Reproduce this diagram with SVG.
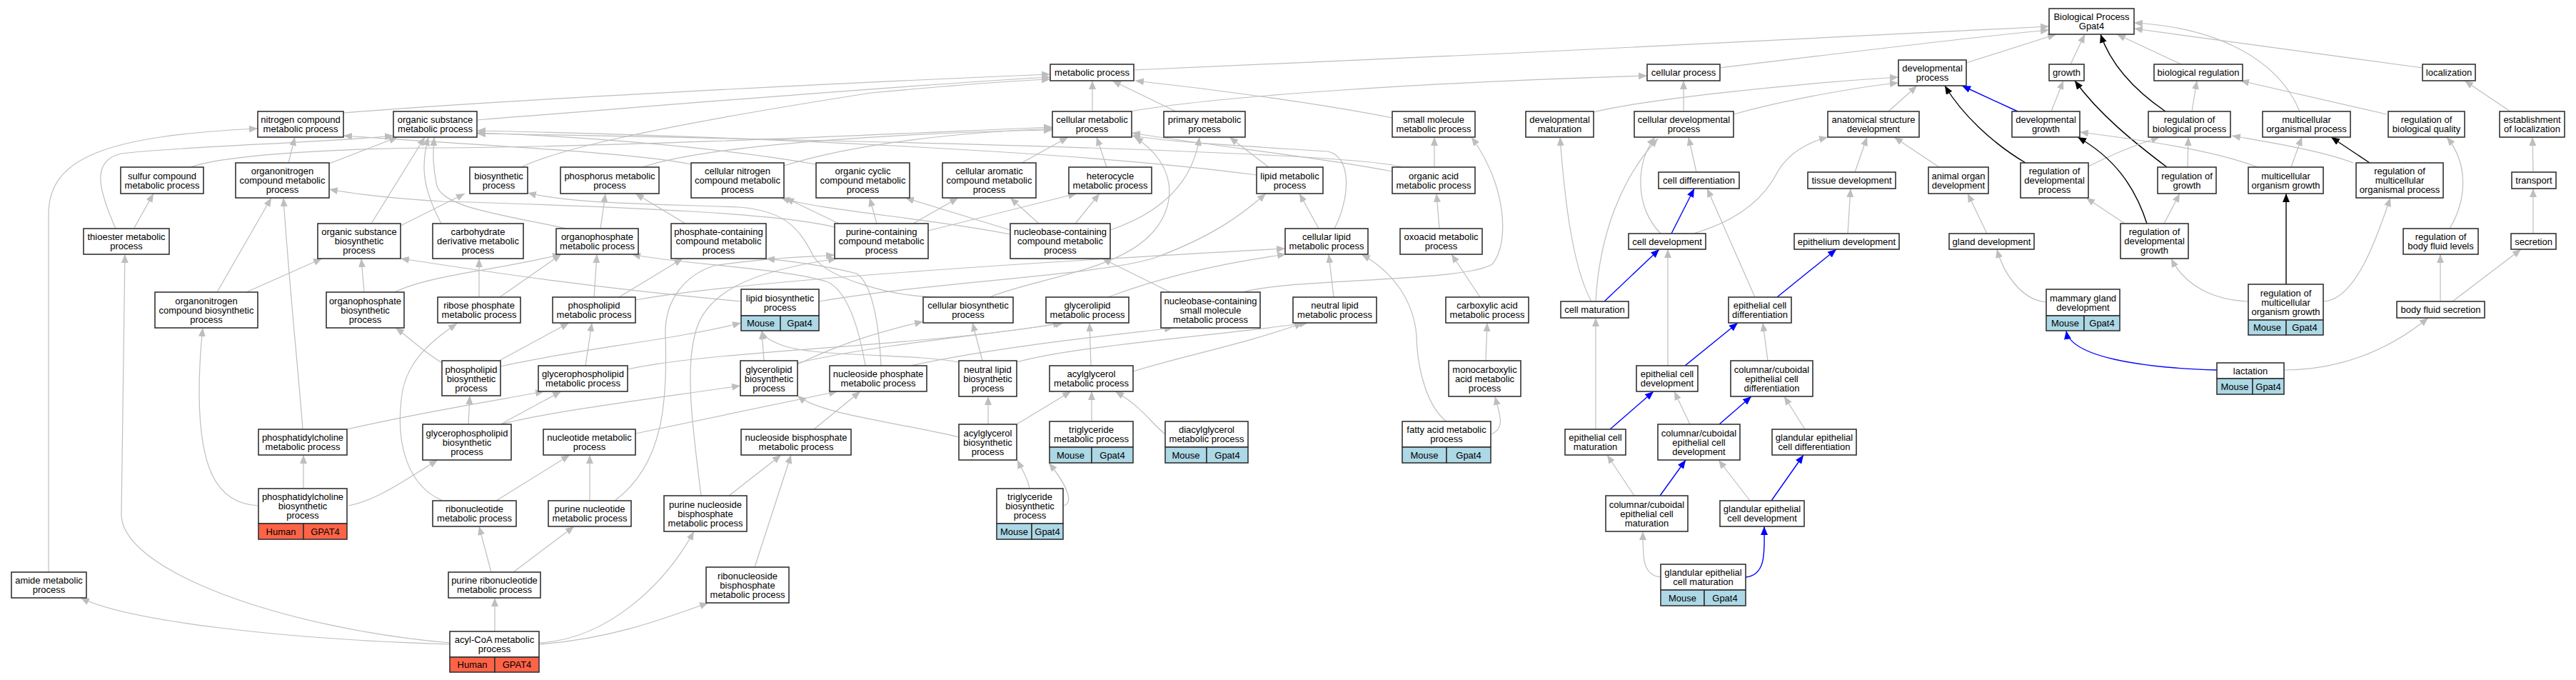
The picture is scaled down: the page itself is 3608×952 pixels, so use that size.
<svg xmlns="http://www.w3.org/2000/svg" width="3608" height="952" viewBox="0 0 3608 952">
<style>
text{font-family:"Liberation Sans",Arial,sans-serif;font-size:13px;text-anchor:middle;fill:#000}
.n rect{fill:#fff;stroke:#333;stroke-width:1.6}
.n rect.h{fill:#ff6347}
.n rect.m{fill:#add8e6}
#edges path{fill:none;stroke:#bebebe;stroke-width:1.2;marker-end:url(#ag)}
#edges path.k{stroke:#000;stroke-width:1.4;marker-end:url(#ak)}
#edges path.b{stroke:#00f;stroke-width:1.4;marker-end:url(#ab)}
</style>
<defs>
<marker id="ag" viewBox="0 0 12 10" refX="12" refY="5" markerWidth="12" markerHeight="10" markerUnits="userSpaceOnUse" orient="auto"><path d="M0,0 L12,5 L0,10 z" fill="#bebebe"/></marker>
<marker id="ak" viewBox="0 0 12 10" refX="12" refY="5" markerWidth="12" markerHeight="10" markerUnits="userSpaceOnUse" orient="auto"><path d="M0,0 L12,5 L0,10 z" fill="#000"/></marker>
<marker id="ab" viewBox="0 0 12 10" refX="12" refY="5" markerWidth="12" markerHeight="10" markerUnits="userSpaceOnUse" orient="auto"><path d="M0,0 L12,5 L0,10 z" fill="#00f"/></marker>
</defs>
<rect width="3608" height="952" fill="#fff"/>
<g id="edges">
<path d="M1588,98 C2000,82 2500,55 2870,37"/>
<path d="M2409,95 C2600,72 2760,52 2870,42"/>
<path d="M2754,88 L2880,48"/>
<path d="M2900,90 L2920,48"/>
<path class="k" d="M3033,156 C2995,130 2958,95 2942,48"/>
<path d="M3055,90 L2965,48"/>
<path d="M3221,156 C3190,80 3100,38 2989,32"/>
<path d="M3393,95 L2989,40"/>
<path d="M481,158 C700,140 1200,115 1471,104"/>
<path d="M668,168 C900,150 1250,120 1471,108"/>
<path d="M730,234 C780,210 900,180 1220,130 C1350,118 1420,113 1471,111"/>
<path d="M1530,156 L1530,113"/>
<path d="M1647,156 L1558,113"/>
<path d="M1950,165 C1850,145 1700,125 1590,113"/>
<path d="M1583,156 C1700,135 2000,115 2307,106"/>
<path d="M2358,156 L2358,113"/>
<path d="M2232,157 C2300,140 2500,118 2659,108"/>
<path d="M2428,160 C2500,140 2600,122 2659,116"/>
<path d="M2645,156 L2685,120"/>
<path class="b" d="M2826,156 L2748,120"/>
<path class="k" d="M2837,228 C2790,200 2748,160 2724,120"/>
<path d="M2873,156 L2890,113"/>
<path class="k" d="M3035,234 C2990,200 2940,160 2906,113"/>
<path d="M3070,156 L3077,113"/>
<path d="M3343,160 L3138,113"/>
<path d="M3516,156 L3452,113"/>
<path d="M2925,233 C2960,215 3000,200 3025,192"/>
<path d="M3064,234 L3065,192"/>
<path d="M3296,228 C3250,210 3170,198 3126,190"/>
<path class="k" d="M3007,313 C2990,260 2960,220 2910,192"/>
<path d="M3162,234 C3100,210 3000,196 2913,185"/>
<path d="M3209,234 L3224,192"/>
<path class="k" d="M3319,228 L3265,192"/>
<path d="M3431,320 C3455,280 3458,230 3427,192"/>
<path d="M3548,241 L3547,192"/>
<path d="M3548,327 L3548,264"/>
<path d="M3435,422 L3531,349"/>
<path d="M3418,422 L3418,356"/>
<path d="M3031,313 L3053,271"/>
<path d="M2976,313 L2922,277"/>
<path class="k" d="M3202,398 L3202,271"/>
<path d="M3149,422 C3100,420 3060,400 3041,362"/>
<path d="M3254,422 C3300,420 3330,330 3348,277"/>
<path d="M3199,518 C3270,518 3340,495 3401,445"/>
<path class="b" d="M3105,518 C3000,515 2900,500 2894,463"/>
<path d="M2866,423 C2830,420 2805,380 2797,349"/>
<path d="M2783,327 L2756,271"/>
<path d="M2716,234 L2653,192"/>
<path d="M2598,241 L2615,192"/>
<path d="M2588,327 L2592,264"/>
<path class="b" d="M2489,416 L2572,349"/>
<path d="M2458,416 L2391,264"/>
<path class="b" d="M2341,327 L2373,264"/>
<path d="M2372,327 C2430,310 2470,280 2490,240 C2505,215 2530,200 2560,192"/>
<path d="M2326,327 C2290,290 2290,230 2318,192"/>
<path d="M2376,241 L2365,192"/>
<path d="M2235,422 C2240,330 2270,250 2322,194"/>
<path d="M2229,422 C2200,370 2190,260 2185,192"/>
<path class="b" d="M2247,422 L2324,349"/>
<path d="M2235,601 L2235,445"/>
<path class="b" d="M2255,601 L2316,548"/>
<path d="M2336,512 L2336,349"/>
<path class="b" d="M2360,512 L2434,452"/>
<path d="M2476,505 L2469,452"/>
<path d="M2367,594 L2345,548"/>
<path class="b" d="M2408,594 L2453,555"/>
<path d="M2289,694 L2251,637"/>
<path class="b" d="M2325,694 L2361,644"/>
<path d="M2451,701 L2407,644"/>
<path class="b" d="M2481,701 L2526,637"/>
<path d="M2528,601 L2499,555"/>
<path class="b" d="M2445,808 C2475,805 2471,770 2471,737"/>
<path d="M2326,808 C2300,805 2301,780 2301,744"/>
<path d="M68,801 L68,300 C68,220 150,190 361,180"/>
<path d="M630,902 C400,895 180,870 113,837"/>
<path d="M630,900 C400,880 170,800 170,720 L175,356"/>
<path d="M188,319 L215,271"/>
<path d="M162,320 C140,270 125,225 170,215 C250,205 450,200 551,190"/>
<path d="M267,234 C320,215 500,207 620,207 C900,205 1300,185 1474,178"/>
<path d="M404,228 L413,192"/>
<path d="M461,229 L557,192"/>
<path d="M1169,318 C1100,300 900,290 620,282 C550,278 500,272 461,265"/>
<path d="M424,601 C418,520 405,400 397,277"/>
<path d="M425,684 L425,637"/>
<path d="M362,708 C300,705 280,650 279,553 C279,500 282,480 284,459"/>
<path d="M488,708 C530,700 570,670 613,644"/>
<path d="M486,601 C600,575 700,560 762,548"/>
<path d="M304,409 L380,277"/>
<path d="M345,409 L451,362"/>
<path d="M510,409 L506,362"/>
<path d="M553,409 C600,385 700,378 786,356"/>
<path d="M520,313 L595,192"/>
<path d="M561,316 L651,271"/>
<path d="M618,313 C590,260 590,230 600,192"/>
<path d="M794,320 C700,300 620,290 612,260 C605,230 607,210 608,192"/>
<path d="M841,320 L848,271"/>
<path d="M960,313 L890,271"/>
<path d="M671,416 L671,362"/>
<path d="M700,416 L786,356"/>
<path d="M620,701 C570,680 555,620 562,560 C566,510 600,480 640,453"/>
<path d="M619,508 C590,490 570,470 554,459"/>
<path d="M699,505 L797,452"/>
<path d="M701,513 C800,490 950,475 1038,452"/>
<path d="M832,416 L836,356"/>
<path d="M867,416 L956,362"/>
<path d="M890,420 C1000,400 1300,375 1800,348"/>
<path d="M656,594 L658,554"/>
<path d="M701,594 L786,548"/>
<path d="M701,594 C760,578 900,560 1037,540"/>
<path d="M820,512 L829,452"/>
<path d="M879,517 C1000,490 1300,485 1487,452"/>
<path d="M1038,422 C800,400 650,375 561,362"/>
<path d="M1147,422 C1300,395 1550,385 1620,360 C1700,330 1740,300 1773,271"/>
<path d="M1070,505 L1067,463"/>
<path d="M1117,508 C1250,478 1400,468 1490,452"/>
<path d="M1117,510 C1180,480 1230,465 1293,450"/>
<path d="M1343,507 C1280,495 1150,500 1100,485 C1080,478 1070,472 1067,463"/>
<path d="M1376,505 L1362,452"/>
<path d="M1424,507 C1500,485 1700,470 1832,452"/>
<path d="M1384,594 L1384,555"/>
<path d="M1424,594 L1500,548"/>
<path d="M1343,612 C1250,590 1150,580 1117,554"/>
<path d="M1529,590 L1529,548"/>
<path d="M1632,608 C1610,590 1600,570 1562,548"/>
<path d="M1442,684 C1440,670 1430,655 1425,644"/>
<path d="M1489,708 C1505,705 1495,680 1469,648"/>
<path d="M1528,512 L1526,452"/>
<path d="M1587,520 C1650,500 1750,480 1825,452"/>
<path d="M1552,416 C1620,390 1700,370 1801,356"/>
<path d="M1868,416 L1861,356"/>
<path d="M2026,590 C2000,570 1985,520 1984,470 C1980,420 1950,380 1907,356"/>
<path d="M2088,608 C2110,600 2100,580 2094,555"/>
<path d="M2081,505 L2083,452"/>
<path d="M2073,416 L2033,356"/>
<path d="M2016,320 L2012,271"/>
<path d="M2009,234 L2009,192"/>
<path d="M1847,320 L1820,271"/>
<path d="M1869,320 C1890,280 1895,220 1860,212 C1750,205 1650,200 1585,190"/>
<path d="M1777,234 L1722,192"/>
<path d="M1760,245 C1500,210 1000,190 668,183"/>
<path d="M1964,234 C1900,215 1400,200 668,187"/>
<path d="M1950,240 C1850,220 1700,205 1585,186"/>
<path d="M1741,409 C1800,390 2050,395 2090,370 C2115,340 2110,260 2061,192"/>
<path d="M1639,409 L1544,362"/>
<path d="M1275,512 C1400,485 1550,470 1643,459"/>
<path d="M1234,512 C1232,470 1225,400 1200,383 C1150,370 1100,365 1073,362"/>
<path d="M1212,512 C1205,470 1190,410 1160,395 C1100,375 950,370 885,356"/>
<path d="M890,607 L1173,548"/>
<path d="M1140,601 L1205,548"/>
<path d="M695,701 L798,637"/>
<path d="M826,701 L826,637"/>
<path d="M861,701 C930,650 935,560 932,470 C930,420 960,385 1000,372 C1080,360 1130,360 1169,357"/>
<path d="M982,694 C970,600 960,520 973,470 C985,410 1050,380 1172,362"/>
<path d="M1021,694 L1094,637"/>
<path d="M1057,794 L1108,637"/>
<path d="M688,801 L671,737"/>
<path d="M719,801 L804,737"/>
<path d="M693,884 L693,837"/>
<path d="M755,900 C850,895 930,820 972,744"/>
<path d="M755,902 C850,895 920,870 992,844"/>
<path d="M1228,313 L1218,277"/>
<path d="M1279,313 L1342,277"/>
<path d="M1300,323 L1508,271"/>
<path d="M1175,313 L1100,277"/>
<path d="M1415,322 L1268,277"/>
<path d="M1455,313 L1415,277"/>
<path d="M1506,313 L1540,271"/>
<path d="M1415,328 C1300,305 1150,295 1094,277"/>
<path d="M1555,322 C1620,300 1670,260 1680,192"/>
<path d="M1431,228 L1496,192"/>
<path d="M1550,234 L1536,192"/>
<path d="M1098,232 C1200,200 1350,185 1474,180"/>
<path d="M968,230 C900,215 700,205 481,190"/>
<path d="M900,234 C1000,200 1300,185 1474,182"/>
<path d="M1143,230 C1000,205 800,190 668,186"/>
<path d="M1386,416 C1450,390 1560,380 1610,330 C1650,290 1650,230 1589,192"/>
<path d="M1310,416 C1250,415 1160,390 1140,360 C1120,320 1100,295 1035,290 C900,285 800,285 739,270"/>
</g>
<g id="n1" class="n"><rect x="2870" y="12" width="119" height="36"/><text x="2929.5" y="28">Biological Process<tspan x="2929.5" dy="13">Gpat4</tspan></text></g>
<g id="n2" class="n"><rect x="1471" y="90" width="117" height="23"/><text x="1529.5" y="106">metabolic process</text></g>
<g id="n3" class="n"><rect x="2307" y="90" width="102" height="23"/><text x="2358" y="106">cellular process</text></g>
<g id="n4" class="n"><rect x="2659" y="84" width="95" height="36"/><text x="2706.5" y="100">developmental<tspan x="2706.5" dy="13">process</tspan></text></g>
<g id="n5" class="n"><rect x="2870" y="90" width="49" height="23"/><text x="2894.5" y="106">growth</text></g>
<g id="n6" class="n"><rect x="3017" y="90" width="124" height="23"/><text x="3079" y="106">biological regulation</text></g>
<g id="n7" class="n"><rect x="3393" y="90" width="74" height="23"/><text x="3430" y="106">localization</text></g>
<g id="n8" class="n"><rect x="361" y="156" width="120" height="36"/><text x="421" y="172">nitrogen compound<tspan x="421" dy="13">metabolic process</tspan></text></g>
<g id="n9" class="n"><rect x="551" y="156" width="117" height="36"/><text x="609.5" y="172">organic substance<tspan x="609.5" dy="13">metabolic process</tspan></text></g>
<g id="n10" class="n"><rect x="1474" y="156" width="111" height="36"/><text x="1529.5" y="172">cellular metabolic<tspan x="1529.5" dy="13">process</tspan></text></g>
<g id="n11" class="n"><rect x="1630" y="156" width="114" height="36"/><text x="1687" y="172">primary metabolic<tspan x="1687" dy="13">process</tspan></text></g>
<g id="n12" class="n"><rect x="1950" y="156" width="116" height="36"/><text x="2008" y="172">small molecule<tspan x="2008" dy="13">metabolic process</tspan></text></g>
<g id="n13" class="n"><rect x="2137" y="156" width="95" height="36"/><text x="2184.5" y="172">developmental<tspan x="2184.5" dy="13">maturation</tspan></text></g>
<g id="n14" class="n"><rect x="2289" y="156" width="139" height="36"/><text x="2358.5" y="172">cellular developmental<tspan x="2358.5" dy="13">process</tspan></text></g>
<g id="n15" class="n"><rect x="2560" y="156" width="128" height="36"/><text x="2624" y="172">anatomical structure<tspan x="2624" dy="13">development</tspan></text></g>
<g id="n16" class="n"><rect x="2818" y="156" width="95" height="36"/><text x="2865.5" y="172">developmental<tspan x="2865.5" dy="13">growth</tspan></text></g>
<g id="n17" class="n"><rect x="3009" y="156" width="115" height="36"/><text x="3066.5" y="172">regulation of<tspan x="3066.5" dy="13">biological process</tspan></text></g>
<g id="n18" class="n"><rect x="3169" y="156" width="123" height="36"/><text x="3230.5" y="172">multicellular<tspan x="3230.5" dy="13">organismal process</tspan></text></g>
<g id="n19" class="n"><rect x="3345" y="156" width="107" height="36"/><text x="3398.5" y="172">regulation of<tspan x="3398.5" dy="13">biological quality</tspan></text></g>
<g id="n20" class="n"><rect x="3501" y="156" width="91" height="36"/><text x="3546.5" y="172">establishment<tspan x="3546.5" dy="13">of localization</tspan></text></g>
<g id="n21" class="n"><rect x="169" y="234" width="116" height="37"/><text x="227" y="250.5">sulfur compound<tspan x="227" dy="13">metabolic process</tspan></text></g>
<g id="n22" class="n"><rect x="330" y="228" width="131" height="49"/><text x="395.5" y="244">organonitrogen<tspan x="395.5" dy="13">compound metabolic</tspan><tspan x="395.5" dy="13">process</tspan></text></g>
<g id="n23" class="n"><rect x="658" y="234" width="81" height="37"/><text x="698.5" y="250.5">biosynthetic<tspan x="698.5" dy="13">process</tspan></text></g>
<g id="n24" class="n"><rect x="785" y="234" width="138" height="37"/><text x="854" y="250.5">phosphorus metabolic<tspan x="854" dy="13">process</tspan></text></g>
<g id="n25" class="n"><rect x="968" y="228" width="130" height="49"/><text x="1033" y="244">cellular nitrogen<tspan x="1033" dy="13">compound metabolic</tspan><tspan x="1033" dy="13">process</tspan></text></g>
<g id="n26" class="n"><rect x="1143" y="228" width="131" height="49"/><text x="1208.5" y="244">organic cyclic<tspan x="1208.5" dy="13">compound metabolic</tspan><tspan x="1208.5" dy="13">process</tspan></text></g>
<g id="n27" class="n"><rect x="1320" y="228" width="131" height="49"/><text x="1385.5" y="244">cellular aromatic<tspan x="1385.5" dy="13">compound metabolic</tspan><tspan x="1385.5" dy="13">process</tspan></text></g>
<g id="n28" class="n"><rect x="1497" y="234" width="116" height="37"/><text x="1555" y="250.5">heterocycle<tspan x="1555" dy="13">metabolic process</tspan></text></g>
<g id="n29" class="n"><rect x="1760" y="234" width="93" height="37"/><text x="1806.5" y="250.5">lipid metabolic<tspan x="1806.5" dy="13">process</tspan></text></g>
<g id="n30" class="n"><rect x="1950" y="234" width="116" height="37"/><text x="2008" y="250.5">organic acid<tspan x="2008" dy="13">metabolic process</tspan></text></g>
<g id="n31" class="n"><rect x="2323" y="241" width="113" height="23"/><text x="2379.5" y="257">cell differentiation</text></g>
<g id="n32" class="n"><rect x="2532" y="241" width="123" height="23"/><text x="2593.5" y="257">tissue development</text></g>
<g id="n33" class="n"><rect x="2701" y="234" width="84" height="37"/><text x="2743" y="250.5">animal organ<tspan x="2743" dy="13">development</tspan></text></g>
<g id="n34" class="n"><rect x="2830" y="228" width="95" height="49"/><text x="2877.5" y="244">regulation of<tspan x="2877.5" dy="13">developmental</tspan><tspan x="2877.5" dy="13">process</tspan></text></g>
<g id="n35" class="n"><rect x="3022" y="234" width="82" height="37"/><text x="3063" y="250.5">regulation of<tspan x="3063" dy="13">growth</tspan></text></g>
<g id="n36" class="n"><rect x="3149" y="234" width="105" height="37"/><text x="3201.5" y="250.5">multicellular<tspan x="3201.5" dy="13">organism growth</tspan></text></g>
<g id="n37" class="n"><rect x="3300" y="228" width="122" height="49"/><text x="3361" y="244">regulation of<tspan x="3361" dy="13">multicellular</tspan><tspan x="3361" dy="13">organismal process</tspan></text></g>
<g id="n38" class="n"><rect x="3518" y="241" width="62" height="23"/><text x="3549" y="257">transport</text></g>
<g id="n39" class="n"><rect x="117" y="320" width="120" height="36"/><text x="177" y="336">thioester metabolic<tspan x="177" dy="13">process</tspan></text></g>
<g id="n40" class="n"><rect x="445" y="313" width="116" height="49"/><text x="503" y="329">organic substance<tspan x="503" dy="13">biosynthetic</tspan><tspan x="503" dy="13">process</tspan></text></g>
<g id="n41" class="n"><rect x="606" y="313" width="127" height="49"/><text x="669.5" y="329">carbohydrate<tspan x="669.5" dy="13">derivative metabolic</tspan><tspan x="669.5" dy="13">process</tspan></text></g>
<g id="n42" class="n"><rect x="779" y="320" width="115" height="36"/><text x="836.5" y="336">organophosphate<tspan x="836.5" dy="13">metabolic process</tspan></text></g>
<g id="n43" class="n"><rect x="940" y="313" width="133" height="49"/><text x="1006.5" y="329">phosphate-containing<tspan x="1006.5" dy="13">compound metabolic</tspan><tspan x="1006.5" dy="13">process</tspan></text></g>
<g id="n44" class="n"><rect x="1169" y="313" width="131" height="49"/><text x="1234.5" y="329">purine-containing<tspan x="1234.5" dy="13">compound metabolic</tspan><tspan x="1234.5" dy="13">process</tspan></text></g>
<g id="n45" class="n"><rect x="1415" y="313" width="140" height="49"/><text x="1485" y="329">nucleobase-containing<tspan x="1485" dy="13">compound metabolic</tspan><tspan x="1485" dy="13">process</tspan></text></g>
<g id="n46" class="n"><rect x="1800" y="320" width="116" height="36"/><text x="1858" y="336">cellular lipid<tspan x="1858" dy="13">metabolic process</tspan></text></g>
<g id="n47" class="n"><rect x="1961" y="320" width="115" height="36"/><text x="2018.5" y="336">oxoacid metabolic<tspan x="2018.5" dy="13">process</tspan></text></g>
<g id="n48" class="n"><rect x="2281" y="327" width="108" height="22"/><text x="2335" y="342.5">cell development</text></g>
<g id="n49" class="n"><rect x="2513" y="327" width="147" height="22"/><text x="2586.5" y="342.5">epithelium development</text></g>
<g id="n50" class="n"><rect x="2730" y="327" width="119" height="22"/><text x="2789.5" y="342.5">gland development</text></g>
<g id="n51" class="n"><rect x="2970" y="313" width="95" height="49"/><text x="3017.5" y="329">regulation of<tspan x="3017.5" dy="13">developmental</tspan><tspan x="3017.5" dy="13">growth</tspan></text></g>
<g id="n52" class="n"><rect x="3366" y="320" width="105" height="36"/><text x="3418.5" y="336">regulation of<tspan x="3418.5" dy="13">body fluid levels</tspan></text></g>
<g id="n53" class="n"><rect x="3517" y="327" width="63" height="22"/><text x="3548.5" y="342.5">secretion</text></g>
<g id="n54" class="n"><rect x="217" y="409" width="144" height="50"/><text x="289" y="425.5">organonitrogen<tspan x="289" dy="13">compound biosynthetic</tspan><tspan x="289" dy="13">process</tspan></text></g>
<g id="n55" class="n"><rect x="457" y="409" width="109" height="50"/><text x="511.5" y="425.5">organophosphate<tspan x="511.5" dy="13">biosynthetic</tspan><tspan x="511.5" dy="13">process</tspan></text></g>
<g id="n56" class="n"><rect x="613" y="416" width="116" height="36"/><text x="671" y="432">ribose phosphate<tspan x="671" dy="13">metabolic process</tspan></text></g>
<g id="n57" class="n"><rect x="774" y="416" width="116" height="36"/><text x="832" y="432">phospholipid<tspan x="832" dy="13">metabolic process</tspan></text></g>
<g id="n58" class="n"><rect x="1038" y="405" width="109" height="37"/><rect class="m" x="1038" y="442" width="55" height="21"/><rect class="m" x="1093" y="442" width="54" height="21"/><text x="1092.5" y="421.5">lipid biosynthetic<tspan x="1092.5" dy="13">process</tspan></text><text x="1065.5" y="457">Mouse</text><text x="1120" y="457">Gpat4</text></g>
<g id="n59" class="n"><rect x="1293" y="416" width="126" height="36"/><text x="1356" y="432">cellular biosynthetic<tspan x="1356" dy="13">process</tspan></text></g>
<g id="n60" class="n"><rect x="1465" y="416" width="116" height="36"/><text x="1523" y="432">glycerolipid<tspan x="1523" dy="13">metabolic process</tspan></text></g>
<g id="n61" class="n"><rect x="1626" y="409" width="139" height="50"/><text x="1695.5" y="425.5">nucleobase-containing<tspan x="1695.5" dy="13">small molecule</tspan><tspan x="1695.5" dy="13">metabolic process</tspan></text></g>
<g id="n62" class="n"><rect x="1811" y="416" width="117" height="36"/><text x="1869.5" y="432">neutral lipid<tspan x="1869.5" dy="13">metabolic process</tspan></text></g>
<g id="n63" class="n"><rect x="2025" y="416" width="116" height="36"/><text x="2083" y="432">carboxylic acid<tspan x="2083" dy="13">metabolic process</tspan></text></g>
<g id="n64" class="n"><rect x="2186" y="422" width="95" height="23"/><text x="2233.5" y="438">cell maturation</text></g>
<g id="n65" class="n"><rect x="2421" y="416" width="88" height="36"/><text x="2465" y="432">epithelial cell<tspan x="2465" dy="13">differentiation</tspan></text></g>
<g id="n66" class="n"><rect x="2866" y="405" width="103" height="37"/><rect class="m" x="2866" y="442" width="53" height="21"/><rect class="m" x="2919" y="442" width="50" height="21"/><text x="2917.5" y="421.5">mammary gland<tspan x="2917.5" dy="13">development</tspan></text><text x="2892.5" y="457">Mouse</text><text x="2944" y="457">Gpat4</text></g>
<g id="n67" class="n"><rect x="3149" y="398" width="105" height="50"/><rect class="m" x="3149" y="448" width="53" height="21"/><rect class="m" x="3202" y="448" width="52" height="21"/><text x="3201.5" y="414.5">regulation of<tspan x="3201.5" dy="13">multicellular</tspan><tspan x="3201.5" dy="13">organism growth</tspan></text><text x="3175.5" y="463">Mouse</text><text x="3228" y="463">Gpat4</text></g>
<g id="n68" class="n"><rect x="3357" y="422" width="123" height="23"/><text x="3418.5" y="438">body fluid secretion</text></g>
<g id="n69" class="n"><rect x="619" y="505" width="82" height="49"/><text x="660" y="521.5">phospholipid<tspan x="660" dy="13">biosynthetic</tspan><tspan x="660" dy="13">process</tspan></text></g>
<g id="n70" class="n"><rect x="754" y="512" width="125" height="36"/><text x="816.5" y="528">glycerophospholipid<tspan x="816.5" dy="13">metabolic process</tspan></text></g>
<g id="n71" class="n"><rect x="1037" y="505" width="80" height="49"/><text x="1077" y="521.5">glycerolipid<tspan x="1077" dy="13">biosynthetic</tspan><tspan x="1077" dy="13">process</tspan></text></g>
<g id="n72" class="n"><rect x="1162" y="512" width="136" height="36"/><text x="1230" y="528">nucleoside phosphate<tspan x="1230" dy="13">metabolic process</tspan></text></g>
<g id="n73" class="n"><rect x="1343" y="505" width="81" height="50"/><text x="1383.5" y="521.5">neutral lipid<tspan x="1383.5" dy="13">biosynthetic</tspan><tspan x="1383.5" dy="13">process</tspan></text></g>
<g id="n74" class="n"><rect x="1470" y="512" width="117" height="36"/><text x="1528.5" y="528">acylglycerol<tspan x="1528.5" dy="13">metabolic process</tspan></text></g>
<g id="n75" class="n"><rect x="2029" y="505" width="101" height="50"/><text x="2079.5" y="521.5">monocarboxylic<tspan x="2079.5" dy="13">acid metabolic</tspan><tspan x="2079.5" dy="13">process</tspan></text></g>
<g id="n76" class="n"><rect x="2292" y="512" width="86" height="36"/><text x="2335" y="528">epithelial cell<tspan x="2335" dy="13">development</tspan></text></g>
<g id="n77" class="n"><rect x="2424" y="505" width="115" height="50"/><text x="2481.5" y="521.5">columnar/cuboidal<tspan x="2481.5" dy="13">epithelial cell</tspan><tspan x="2481.5" dy="13">differentiation</tspan></text></g>
<g id="n78" class="n"><rect x="3105" y="508" width="94" height="22"/><rect class="m" x="3105" y="530" width="50" height="22"/><rect class="m" x="3155" y="530" width="44" height="22"/><text x="3152" y="523.5">lactation</text><text x="3130" y="545.5">Mouse</text><text x="3177" y="545.5">Gpat4</text></g>
<g id="n79" class="n"><rect x="362" y="601" width="124" height="36"/><text x="424" y="617">phosphatidylcholine<tspan x="424" dy="13">metabolic process</tspan></text></g>
<g id="n80" class="n"><rect x="592" y="594" width="124" height="50"/><text x="654" y="610.5">glycerophospholipid<tspan x="654" dy="13">biosynthetic</tspan><tspan x="654" dy="13">process</tspan></text></g>
<g id="n81" class="n"><rect x="761" y="601" width="129" height="36"/><text x="825.5" y="617">nucleotide metabolic<tspan x="825.5" dy="13">process</tspan></text></g>
<g id="n82" class="n"><rect x="1038" y="601" width="154" height="36"/><text x="1115" y="617">nucleoside bisphosphate<tspan x="1115" dy="13">metabolic process</tspan></text></g>
<g id="n83" class="n"><rect x="1343" y="594" width="81" height="50"/><text x="1383.5" y="610.5">acylglycerol<tspan x="1383.5" dy="13">biosynthetic</tspan><tspan x="1383.5" dy="13">process</tspan></text></g>
<g id="n84" class="n"><rect x="1470" y="590" width="117" height="36"/><rect class="m" x="1470" y="626" width="59" height="22"/><rect class="m" x="1529" y="626" width="58" height="22"/><text x="1528.5" y="606">triglyceride<tspan x="1528.5" dy="13">metabolic process</tspan></text><text x="1499.5" y="641.5">Mouse</text><text x="1558" y="641.5">Gpat4</text></g>
<g id="n85" class="n"><rect x="1632" y="590" width="116" height="36"/><rect class="m" x="1632" y="626" width="58" height="22"/><rect class="m" x="1690" y="626" width="58" height="22"/><text x="1690" y="606">diacylglycerol<tspan x="1690" dy="13">metabolic process</tspan></text><text x="1661" y="641.5">Mouse</text><text x="1719" y="641.5">Gpat4</text></g>
<g id="n86" class="n"><rect x="1964" y="590" width="124" height="36"/><rect class="m" x="1964" y="626" width="62" height="22"/><rect class="m" x="2026" y="626" width="62" height="22"/><text x="2026" y="606">fatty acid metabolic<tspan x="2026" dy="13">process</tspan></text><text x="1995" y="641.5">Mouse</text><text x="2057" y="641.5">Gpat4</text></g>
<g id="n87" class="n"><rect x="2192" y="601" width="85" height="36"/><text x="2234.5" y="617">epithelial cell<tspan x="2234.5" dy="13">maturation</tspan></text></g>
<g id="n88" class="n"><rect x="2322" y="594" width="115" height="50"/><text x="2379.5" y="610.5">columnar/cuboidal<tspan x="2379.5" dy="13">epithelial cell</tspan><tspan x="2379.5" dy="13">development</tspan></text></g>
<g id="n89" class="n"><rect x="2482" y="601" width="118" height="36"/><text x="2541" y="617">glandular epithelial<tspan x="2541" dy="13">cell differentiation</tspan></text></g>
<g id="n90" class="n"><rect x="362" y="684" width="124" height="49"/><rect class="h" x="362" y="733" width="63" height="22"/><rect class="h" x="425" y="733" width="61" height="22"/><text x="424" y="700">phosphatidylcholine<tspan x="424" dy="13">biosynthetic</tspan><tspan x="424" dy="13">process</tspan></text><text x="393.5" y="748.5">Human</text><text x="455.5" y="748.5">GPAT4</text></g>
<g id="n91" class="n"><rect x="606" y="701" width="117" height="36"/><text x="664.5" y="717">ribonucleotide<tspan x="664.5" dy="13">metabolic process</tspan></text></g>
<g id="n92" class="n"><rect x="768" y="701" width="116" height="36"/><text x="826" y="717">purine nucleotide<tspan x="826" dy="13">metabolic process</tspan></text></g>
<g id="n93" class="n"><rect x="930" y="694" width="116" height="50"/><text x="988" y="710.5">purine nucleoside<tspan x="988" dy="13">bisphosphate</tspan><tspan x="988" dy="13">metabolic process</tspan></text></g>
<g id="n94" class="n"><rect x="1396" y="684" width="93" height="49"/><rect class="m" x="1396" y="733" width="49" height="22"/><rect class="m" x="1445" y="733" width="44" height="22"/><text x="1442.5" y="700">triglyceride<tspan x="1442.5" dy="13">biosynthetic</tspan><tspan x="1442.5" dy="13">process</tspan></text><text x="1420.5" y="748.5">Mouse</text><text x="1467" y="748.5">Gpat4</text></g>
<g id="n95" class="n"><rect x="2249" y="694" width="115" height="50"/><text x="2306.5" y="710.5">columnar/cuboidal<tspan x="2306.5" dy="13">epithelial cell</tspan><tspan x="2306.5" dy="13">maturation</tspan></text></g>
<g id="n96" class="n"><rect x="2409" y="701" width="118" height="36"/><text x="2468" y="717">glandular epithelial<tspan x="2468" dy="13">cell development</tspan></text></g>
<g id="n97" class="n"><rect x="16" y="801" width="105" height="36"/><text x="68.5" y="817">amide metabolic<tspan x="68.5" dy="13">process</tspan></text></g>
<g id="n98" class="n"><rect x="628" y="801" width="129" height="36"/><text x="692.5" y="817">purine ribonucleotide<tspan x="692.5" dy="13">metabolic process</tspan></text></g>
<g id="n99" class="n"><rect x="989" y="794" width="116" height="50"/><text x="1047" y="810.5">ribonucleoside<tspan x="1047" dy="13">bisphosphate</tspan><tspan x="1047" dy="13">metabolic process</tspan></text></g>
<g id="n100" class="n"><rect x="2326" y="790" width="119" height="36"/><rect class="m" x="2326" y="826" width="61" height="22"/><rect class="m" x="2387" y="826" width="58" height="22"/><text x="2385.5" y="806">glandular epithelial<tspan x="2385.5" dy="13">cell maturation</tspan></text><text x="2356.5" y="841.5">Mouse</text><text x="2416" y="841.5">Gpat4</text></g>
<g id="n101" class="n"><rect x="630" y="884" width="125" height="36"/><rect class="h" x="630" y="920" width="63" height="21"/><rect class="h" x="693" y="920" width="62" height="21"/><text x="692.5" y="900">acyl-CoA metabolic<tspan x="692.5" dy="13">process</tspan></text><text x="661.5" y="935">Human</text><text x="724" y="935">GPAT4</text></g>
</svg>
